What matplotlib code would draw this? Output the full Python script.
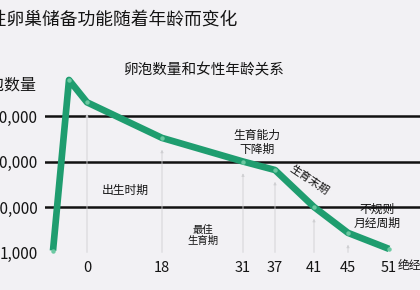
import numpy as np
import matplotlib
matplotlib.use("Agg")
import matplotlib.pyplot as plt
from matplotlib.ticker import FixedLocator, NullLocator

plt.rcParams['font.family'] = ['Noto Sans CJK SC', 'DejaVu Sans']

# ---- data ----
ages = [-0.75, -0.4, 0, 18, 31, 37, 41, 45, 51]
follicles = [1100, 6200000, 2000000, 330000, 100000, 65000, 10000, 2700, 1200]
tick_ages = [0, 18, 31, 37, 41, 45, 51]
tick_labels = ['0', '18', '31', '37', '41', '45', '51']
arrow_ages = [0, 18, 31, 37, 41, 45]
y_ticks = [1000, 10000, 100000, 1000000]
y_labels = ['1,000', '10,000', '100,000', '1,000,000']
grid_levels = [10000, 100000, 1000000]

title = '女性卵巢储备功能随着年龄而变化'
subtitle = '卵泡数量和女性年龄关系'
ylabel = '卵泡数量'

# ---- uneven age axis (scale knots) ----
knot_age = np.array([-0.925, -0.75, -0.4, 0, 18, 31, 37, 41, 45, 51, 55.5])
knot_pos = np.array([0, 8, 24, 42, 117, 198, 230, 269, 303, 344, 375], dtype=float)

def fwd(a):
    return np.interp(a, knot_age, knot_pos)

def inv(p):
    return np.interp(p, knot_pos, knot_age)

bg = '#f2f1f4'
green = '#1f9d6f'
ink = '#141414'

fig = plt.figure(figsize=(4.2, 2.9), dpi=100, facecolor=bg)
ax = fig.add_axes([45/420, 32/290, 375/420, 198/290])
ax.set_facecolor(bg)
ax.set_xscale('function', functions=(fwd, inv))
ax.set_yscale('log')
ax.set_xlim(-0.925, 55.5)
ax.set_ylim(10**2.879, 10**7.231)

for s in ax.spines.values():
    s.set_visible(False)

for g in grid_levels:
    ax.axhline(g, color='#111111', lw=1.8, zorder=1)

# thin vertical pointer lines
for a in arrow_ages:
    v = follicles[ages.index(a)]
    ax.annotate('', xy=(a, v * 0.55), xytext=(a, 1000),
                arrowprops=dict(arrowstyle='-|>', color='#cfcfd2', lw=0.6,
                                mutation_scale=4, shrinkA=0, shrinkB=0),
                zorder=2)

ax.plot(ages, follicles, color=green, lw=4.8, solid_joinstyle='round',
        solid_capstyle='butt', zorder=3)
ax.plot(ages, follicles, 'o', color='#6cc9a2', ms=2.2, zorder=4)

ax.xaxis.set_major_locator(FixedLocator(tick_ages))
ax.xaxis.set_minor_locator(NullLocator())
ax.set_xticklabels(tick_labels)
ax.yaxis.set_major_locator(FixedLocator(y_ticks))
ax.yaxis.set_minor_locator(NullLocator())
ax.set_yticklabels(y_labels)
ax.tick_params(axis='x', length=0, pad=2, labelsize=10.5, labelcolor=ink)
ax.tick_params(axis='y', length=0, pad=5, labelsize=11, labelcolor=ink)

# titles and texts
fig.text(-29/420, 1 - 20/290, title, fontsize=12.8, ha='left', va='center', color=ink)
fig.text(204/420, 1 - 70/290, subtitle, fontsize=10.5, ha='center', va='center', color=ink)
fig.text(37/420, 1 - 85/290, ylabel, fontsize=11.5, ha='right', va='center', color=ink)
fig.text(398/420, 1 - 265/290, '绝经', fontsize=8.5, ha='left', va='center', color=ink)

fig.text(125/420, 1 - 190/290, '出生时期', fontsize=8.5, ha='center', va='center', color=ink)
fig.text(203/420, 1 - 235/290, '最佳\n生育期', fontsize=7.5, ha='center', va='center',
         color=ink, linespacing=1.1)
fig.text(257/420, 1 - 142/290, '生育能力\n下降期', fontsize=8.5, ha='center', va='center',
         color=ink, linespacing=1.1)
fig.text(309/420, 1 - 180/290, '生育末期', fontsize=8, ha='center', va='center',
         color=ink, rotation=-34)
fig.text(377/420, 1 - 216/290, '不规则\n月经周期', fontsize=8.5, ha='center', va='center',
         color=ink, linespacing=1.1)

fig.savefig('out.png', dpi=100, facecolor=bg)
